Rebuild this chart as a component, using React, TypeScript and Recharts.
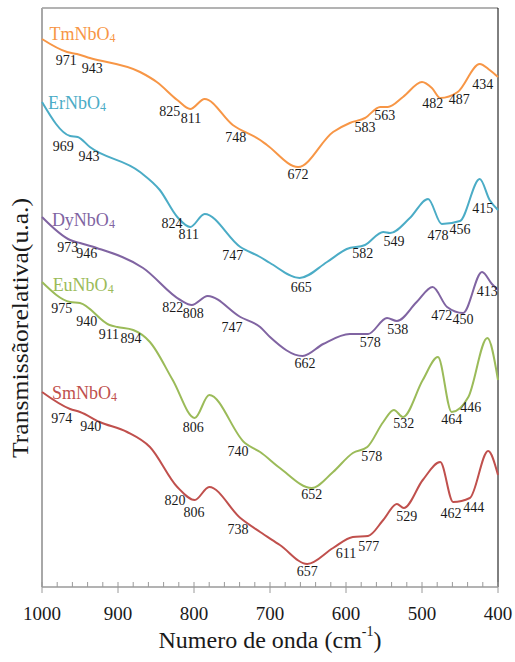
import React from 'react';
import { ComposedChart, Line, Scatter, XAxis, YAxis, ReferenceLine } from 'recharts';

// wavenumbers (cm-1) and relative transmission (arbitrary units)
const tmWn = [1000, 967, 954, 937, 871, 849, 822, 805, 786, 749, 713, 704, 663, 617, 595, 575, 555, 545, 525, 500, 487, 476, 453, 424, 411, 400];
const tmT = [548, 535, 533, 529, 515, 505, 487, 478, 488, 462, 447, 442, 420, 455, 464, 469, 480, 480, 490, 505, 499, 489, 495, 523, 517, 510];

const erWn = [1000, 963, 953, 937, 871, 845, 822, 805, 786, 739, 713, 700, 661, 625, 599, 575, 551, 542, 516, 492, 474, 450, 424, 411, 400];
const erT = [485, 451, 450, 440, 415, 397, 370, 360, 373, 340, 330, 324, 309, 325, 338, 342, 355, 354, 369, 388, 363, 366, 408, 387, 377];

const dyWn = [1000, 963, 950, 928, 867, 818, 803, 782, 739, 713, 700, 657, 630, 595, 571, 546, 533, 507, 486, 467, 446, 421, 408, 400];
const dyT = [370, 347, 344, 339, 319, 287, 282, 291, 270, 260, 250, 231, 243, 253, 253, 269, 266, 285, 300, 280, 274, 315, 303, 297];

const euWn = [1000, 963, 950, 911, 901, 880, 858, 828, 799, 780, 733, 713, 687, 645, 617, 591, 572, 551, 537, 525, 499, 479, 461, 439, 414, 400];
const euT = [305, 285, 284, 262, 260, 257, 245, 207, 169, 192, 144, 135, 119, 99, 115, 134, 140, 165, 177, 170, 207, 230, 175, 190, 249, 207];

const smWn = [1000, 963, 950, 924, 888, 858, 822, 799, 780, 739, 713, 687, 651, 617, 591, 571, 551, 533, 524, 499, 476, 459, 437, 413, 400];
const smT = [195, 178, 175, 165, 155, 140, 100, 87, 100, 69, 55, 42, 23, 39, 50, 51, 67, 83, 79, 107, 125, 85, 89, 136, 112];

// peak annotations: [wavenumber, level, text]
const tmPeaks = [[968, 527, '971'], [934, 519, '943'], [832, 476, '825'], [804, 469, '811'], [745, 450, '748'], [663, 413, '672'], [575, 460, '583'], [549, 472, '563'], [486, 484, '482'], [451, 488, '487'], [420, 503, '434']];
const erPeaks = [[972, 441, '969'], [938, 431, '943'], [829, 364, '824'], [807, 353, '811'], [749, 332, '747'], [659, 300, '665'], [578, 334, '582'], [537, 346, '549'], [479, 352, '478'], [450, 358, '456'], [420, 379, '415']];
const dyPeaks = [[966, 340, '973'], [941, 334, '946'], [828, 280, '822'], [801, 274, '808'], [750, 260, '747'], [654, 224, '662'], [568, 245, '578'], [532, 258, '538'], [474, 272, '472'], [446, 268, '450'], [414, 296, '413']];
const euPeaks = [[974, 279, '975'], [941, 266, '940'], [912, 253, '911'], [883, 249, '894'], [801, 160, '806'], [742, 136, '740'], [645, 93, '652'], [566, 131, '578'], [524, 164, '532'], [461, 168, '464'], [436, 180, '446']];
const smPeaks = [[974, 169, '974'], [936, 161, '940'], [825, 87, '820'], [800, 75, '806'], [742, 58, '738'], [651, 16, '657'], [600, 34, '611'], [570, 41, '577'], [520, 71, '529'], [462, 74, '462'], [432, 80, '444']];

// sample names and where they sit
const names = ['TmNbO', 'ErNbO', 'DyNbO', 'EuNbO', 'SmNbO'];
const nameWn = [990, 992, 987, 986, 987];
const nameT = [553, 484, 367, 302, 194];

const xTicks = [1000, 980, 960, 940, 920, 900, 880, 860, 840, 820, 800, 780, 760, 740, 720, 700, 680, 660, 640, 620, 600, 580, 560, 540, 520, 500, 480, 460, 440, 420, 400];

const colors = ['#F79646', '#4BACC6', '#8064A2', '#9BBB59', '#C0504D'];
const FONT = '"Liberation Serif", "Times New Roman", serif';

const zip = (wn: number[], t: number[]) => wn.map((w, i) => ({ wn: w, v: t[i] }));
const series = [zip(tmWn, tmT), zip(erWn, erT), zip(dyWn, dyT), zip(euWn, euT), zip(smWn, smT)];
const peaks = [tmPeaks, erPeaks, dyPeaks, euPeaks, smPeaks].map((list) =>
  list.map(([w, v, label]) => ({ wn: w as number, v: v as number, label: label as string }))
);
const nameData = names.map((n, i) => ({ wn: nameWn[i], v: nameT[i], label: n, color: colors[i] }));

const AxisTick = (props: any) => {
  const { x, y, payload } = props;
  const major = payload.value % 100 === 0;
  return (
    <g>
      <line x1={x} x2={x} y1={y - 5} y2={major ? y + 6 : y} stroke="#9a9a9a" strokeWidth={1} />
      {major && (
        <text x={x} y={y + 26} textAnchor="middle" dominantBaseline="central" fontSize={19} fill="#1a1a1a" fontFamily={FONT}>
          {payload.value}
        </text>
      )}
    </g>
  );
};

const PeakLabel = (props: any) => (
  <text x={props.cx} y={props.cy} textAnchor="middle" dominantBaseline="central" fontSize={14} fill="#1a1a1a" fontFamily={FONT}>
    {props.payload.label}
  </text>
);

const NameLabel = (props: any) => (
  <text x={props.cx} y={props.cy} dominantBaseline="central" fontSize={18} fill={props.payload.color} fontFamily={FONT}>
    {props.payload.label}
    <tspan fontSize={12} dy={4}>4</tspan>
  </text>
);

const App: React.FC = () => {
  return (
    <div style={{ position: 'absolute', left: 0, top: 0, width: 515, height: 662, background: '#fff' }}>
      <ComposedChart width={515} height={662} margin={{ top: 8, right: 17, left: 42, bottom: 0 }}>
        <XAxis
          type="number"
          dataKey="wn"
          domain={[400, 1000]}
          reversed
          ticks={xTicks}
          interval={0}
          height={75}
          tickSize={0}
          tickMargin={0}
          tick={<AxisTick />}
          axisLine={{ stroke: '#9a9a9a', strokeWidth: 1.5 }}
        />
        <YAxis type="number" dataKey="v" domain={[0, 579]} hide />
        <ReferenceLine y={579} stroke="#9a9a9a" strokeWidth={1.5} />
        <ReferenceLine x={1000} stroke="#a8a8a8" strokeWidth={2} />
        <ReferenceLine x={400} stroke="#000" strokeWidth={1} />
        {series.map((d, i) => (
          <Line key={names[i]} data={d} dataKey="v" type="monotone" stroke={colors[i]} strokeWidth={2} dot={false} isAnimationActive={false} />
        ))}
        {peaks.map((d, i) => (
          <Scatter key={'p' + i} data={d} dataKey="v" shape={<PeakLabel />} isAnimationActive={false} />
        ))}
        <Scatter data={nameData} dataKey="v" shape={<NameLabel />} isAnimationActive={false} />
      </ComposedChart>
      <svg width={515} height={662} style={{ position: 'absolute', left: 0, top: 0, pointerEvents: 'none' }}>
        <text x={270} y={640} textAnchor="middle" dominantBaseline="central" fontSize={24} fill="#1a1a1a" fontFamily={FONT}>
          Numero de onda (cm<tspan fontSize={14} dy={-9}>-1</tspan><tspan dy={9}>)</tspan>
        </text>
        <text
          x={20}
          y={328}
          transform="rotate(-90 20 328)"
          textAnchor="middle"
          dominantBaseline="central"
          fontSize={24}
          fill="#1a1a1a"
          fontFamily={FONT}
          textLength={260}
          lengthAdjust="spacingAndGlyphs"
        >
          Transmissãorelativa(u.a.)
        </text>
      </svg>
    </div>
  );
};

export default App;
